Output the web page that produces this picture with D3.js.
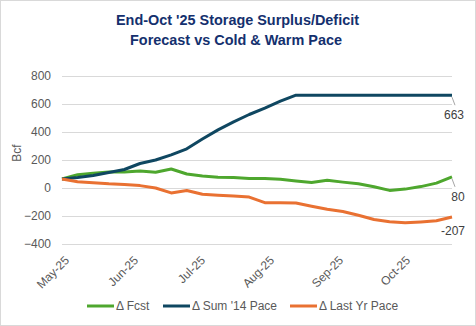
<!DOCTYPE html>
<html>
<head>
<meta charset="utf-8">
<script src="https://d3js.org/d3.v7.min.js"></script>
<style>
  body { margin: 0; background: #fff; }
  svg { font-family: "Liberation Sans", Arial, sans-serif; }
  .grid line { stroke: #d9d9d9; stroke-width: 1; }
  .tick text { fill: #595959; font-size: 12px; }
  .line { fill: none; stroke-width: 3; stroke-linejoin: round; }
</style>
</head>
<body>
<div id="chart"></div>
<script>
// weekly dates (Fridays), May 2 -> Oct 24 2025
var weeks = ["2025-05-02","2025-05-09","2025-05-16","2025-05-23","2025-05-30",
  "2025-06-06","2025-06-13","2025-06-20","2025-06-27","2025-07-04","2025-07-11",
  "2025-07-18","2025-07-25","2025-08-01","2025-08-08","2025-08-15","2025-08-22",
  "2025-08-29","2025-09-05","2025-09-12","2025-09-19","2025-09-26","2025-10-03",
  "2025-10-10","2025-10-17","2025-10-24"];

var fcst = [64, 95, 105, 115, 115, 122, 113, 136, 100, 85, 77, 75, 68, 68, 62, 50,
  40, 55, 42, 30, 9, -17, -8, 10, 35, 80];
var sum14 = [64, 75, 90, 110, 132, 175, 200, 237, 280, 350, 415, 472, 525, 570, 620,
  663, 663, 663, 663, 663, 663, 663, 663, 663, 663, 663];
var lastYr = [64, 45, 38, 30, 25, 17, 0, -35, -18, -45, -52, -58, -65, -105, -105,
  -107, -130, -152, -168, -195, -225, -241, -248, -242, -234, -207];

var seriesNames = ["\u0394 Fcst", "\u0394 Sum '14 Pace", "\u0394 Last Yr Pace"];
var colors = ["#4ea72e", "#0f4761", "#e97132"];
var yTicks = [-400, -200, 0, 200, 400, 600, 800];
var xTickDates = ["2025-05-02","2025-06-02","2025-07-02","2025-08-02","2025-09-02","2025-10-02"];

var W = 476, H = 326;
var parse = d3.utcParse("%Y-%m-%d");
var dates = weeks.map(parse);
var series = [fcst, sum14, lastYr].map(function(v, i) {
  return {name: seriesNames[i], color: colors[i],
    values: v.map(function(d, j) { return {date: dates[j], value: d}; })};
});

var x = d3.scaleUtc().domain(d3.extent(dates)).range([62, 452]);
var y = d3.scaleLinear().domain([-400, 800]).range([244, 76]);

var svg = d3.select("#chart").append("svg")
  .attr("width", W).attr("height", H);

svg.append("rect")
  .attr("x", 0.5).attr("y", 0.5)
  .attr("width", W - 1).attr("height", H - 1)
  .attr("fill", "#fff").attr("stroke", "#d9d9d9");

/* Title */
var title = svg.append("text")
  .attr("text-anchor", "middle")
  .attr("fill", "#14306e")
  .style("font-size", "15px")
  .style("font-weight", "bold");
title.append("tspan").attr("x", 237.5).attr("y", 25)
  .attr("textLength", 243).attr("lengthAdjust", "spacingAndGlyphs")
  .text("End-Oct '25 Storage Surplus/Deficit");
title.append("tspan").attr("x", 236).attr("y", 45)
  .attr("textLength", 212).attr("lengthAdjust", "spacingAndGlyphs")
  .text("Forecast vs Cold & Warm Pace");

/* Gridlines + y axis */
svg.append("g")
  .attr("class", "grid")
  .selectAll("line")
  .data(yTicks).enter()
  .append("line")
  .attr("x1", 62).attr("x2", 452)
  .attr("y1", d => Math.round(y(d)) + 0.5)
  .attr("y2", d => Math.round(y(d)) + 0.5);

var yAxis = svg.append("g")
  .attr("transform", "translate(62,0)")
  .call(d3.axisLeft(y).tickValues(yTicks).tickSize(0).tickPadding(11));
yAxis.select(".domain").remove();

svg.append("text")
  .attr("transform", "translate(21,153) rotate(-90)")
  .attr("text-anchor", "middle")
  .attr("fill", "#595959")
  .style("font-size", "12px")
  .text("Bcf");

/* x axis */
var fmt = d3.utcFormat("%b-%y");
svg.append("g")
  .selectAll("text")
  .data(xTickDates.map(parse)).enter()
  .append("text")
  .attr("transform", d => `translate(${x(d) + 5}, 258) rotate(-45)`)
  .attr("text-anchor", "end")
  .attr("dy", "0.35em")
  .attr("fill", "#595959")
  .style("font-size", "12px")
  .text(d => fmt(d));

/* Lines */
var line = d3.line()
  .x(d => x(d.date))
  .y(d => y(d.value));

svg.append("g")
  .selectAll("path")
  .data(series).enter()
  .append("path")
  .attr("class", "line")
  .attr("d", d => line(d.values))
  .style("stroke", d => d.color);

/* End labels */
var labelOffsets = [{dx: 4, dy: 20, leader: true}, {dx: 0, dy: 20, leader: true}, {dx: -1, dy: 14, leader: false}];
series.forEach(function(s, i) {
  var last = s.values[s.values.length - 1];
  var px = x(last.date), py = y(last.value);
  var o = labelOffsets[i];
  if (o.leader) {
    svg.append("line")
      .attr("x1", px).attr("y1", py + 2)
      .attr("x2", px + 3).attr("y2", py + 10)
      .attr("stroke", "#a6a6a6").attr("stroke-width", 1);
  }
  svg.append("text")
    .attr("x", px + o.dx + 2)
    .attr("y", py + o.dy)
    .attr("dy", "0.35em")
    .attr("text-anchor", "middle")
    .attr("fill", "#404040")
    .style("font-size", "12px")
    .text(last.value);
});

/* Legend */
var legendX = [87, 163, 290];
var legend = svg.append("g")
  .selectAll("g")
  .data(series).enter()
  .append("g")
  .attr("transform", (d, i) => `translate(${legendX[i]}, 306)`);
legend.append("line")
  .attr("x1", 0).attr("x2", 27)
  .attr("stroke", d => d.color)
  .attr("stroke-width", 3);
legend.append("text")
  .attr("x", 29)
  .attr("dy", "0.35em")
  .attr("fill", "#595959")
  .style("font-size", "12px")
  .text(d => d.name);
</script>
</body>
</html>
